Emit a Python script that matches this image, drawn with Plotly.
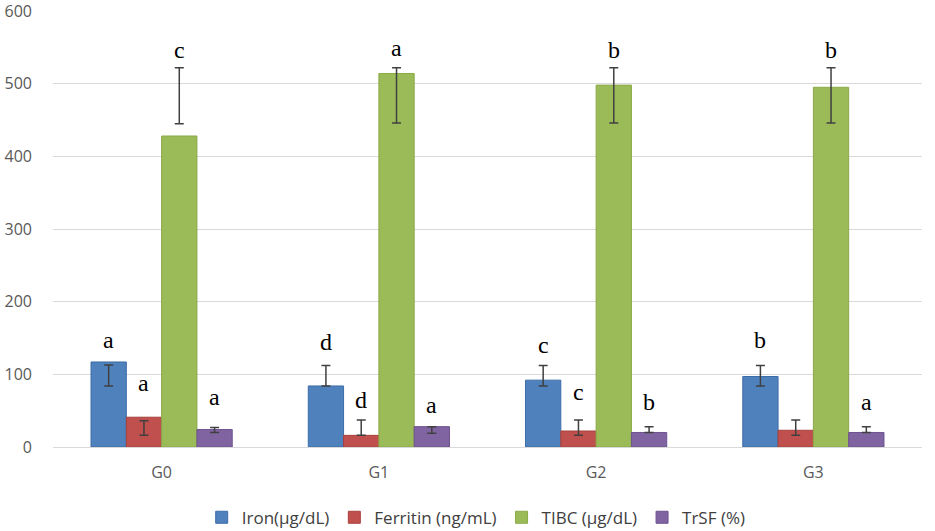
import plotly.graph_objects as go

groups = ["G0", "G1", "G2", "G3"]
series_names = ["Iron(µg/dL)", "Ferritin (ng/mL)", "TIBC (µg/dL)", "TrSF (%)"]
colors = ["#4F81BD", "#C0504D", "#9BBB59", "#8064A2"]
edge_colors = ["#3D6DA8", "#A8403D", "#8AAA48", "#6D5290"]

iron = [117, 84, 92, 97]
ferritin = [41, 16, 22, 23]
tibc = [428, 514, 498, 495]
trsf = [24, 28, 20, 20]
values = [iron, ferritin, tibc, trsf]

# error bar ranges (low, high) as drawn in the source chart
iron_err_low = [84, 84, 84, 84]
iron_err_high = [113, 112, 112, 112]
ferritin_err_low = [16, 16, 16, 16]
ferritin_err_high = [36, 37, 37, 37]
tibc_err_low = [445, 446, 446, 446]
tibc_err_high = [522, 522, 522, 522]
trsf_err_low = [20, 19, 20, 20]
trsf_err_high = [27, 28, 28, 28]
err_low = [iron_err_low, ferritin_err_low, tibc_err_low, trsf_err_low]
err_high = [iron_err_high, ferritin_err_high, tibc_err_high, trsf_err_high]

# significance letters and their heights
iron_letters = ["a", "d", "c", "b"]
ferritin_letters = ["a", "d", "c", ""]
tibc_letters = ["c", "a", "b", "b"]
trsf_letters = ["a", "a", "b", "a"]
letters = [iron_letters, ferritin_letters, tibc_letters, trsf_letters]
iron_letter_y = [147, 145, 140, 147]
ferritin_letter_y = [88, 65, 76, 0]
tibc_letter_y = [546, 549, 547, 547]
trsf_letter_y = [69, 58, 62, 62]
letter_y = [iron_letter_y, ferritin_letter_y, tibc_letter_y, trsf_letter_y]

y_ticks = [0, 100, 200, 300, 400, 500, 600]

fig = go.Figure()
for i, name in enumerate(series_names):
    fig.add_trace(go.Bar(
        x=groups, y=values[i], name=name, offsetgroup=str(i),
        marker=dict(color=colors[i], line=dict(color=edge_colors[i], width=1)),
    ))
for i, name in enumerate(series_names):
    mids = [(lo + hi) / 2 for lo, hi in zip(err_low[i], err_high[i])]
    half = [(hi - lo) / 2 for lo, hi in zip(err_low[i], err_high[i])]
    fig.add_trace(go.Bar(
        x=groups, y=mids, offsetgroup=str(i), showlegend=False,
        marker=dict(color="rgba(0,0,0,0)", line=dict(width=0)),
        error_y=dict(type="data", array=half, visible=True,
                     color="#404040", thickness=1.5, width=4.5),
        hoverinfo="skip",
    ))

# letter annotations, shifted to each bar's slot
plot_w = 935 - 53 - 13
cat_w = plot_w / len(groups)
bargap = 0.35
bar_w = cat_w * (1 - bargap) / len(series_names)
for i in range(len(series_names)):
    shift = (i - (len(series_names) - 1) / 2) * bar_w
    for j, g in enumerate(groups):
        if letters[i][j]:
            fig.add_annotation(
                x=g, y=letter_y[i][j], text=letters[i][j], showarrow=False,
                xshift=shift, xref="x", yref="y",
                font=dict(family="Liberation Serif", size=24, color="#000000"),
            )

fig.update_layout(
    width=935, height=531,
    margin=dict(l=53, r=13, t=11, b=84, autoexpand=False),
    plot_bgcolor="white", paper_bgcolor="white",
    barmode="group", bargap=bargap, bargroupgap=0,
    font=dict(family="Open Sans", color="#595959", size=14),
    legend=dict(orientation="h", x=0.487, xanchor="center",
                yref="container", y=0.025, yanchor="middle",
                font=dict(size=17, color="#404040"), traceorder="normal",
                itemwidth=30),
    showlegend=True,
)
fig.update_xaxes(showgrid=False, showline=False, ticks="",
                 ticklabelstandoff=14,
                 tickfont=dict(size=16, color="#595959"))
fig.update_yaxes(range=[0, 600], tickvals=y_ticks, showgrid=True,
                 gridcolor="#D9D9D9", gridwidth=1, zeroline=True,
                 zerolinecolor="#D9D9D9", zerolinewidth=1, showline=False,
                 ticks="", ticklabelstandoff=20, ticklabeloverflow="allow",
                 tickfont=dict(size=16, color="#595959"))

fig.write_html("out.html",
               config={"displayModeBar": False},
               post_script="document.body.style.margin='0';document.body.style.overflow='hidden';")
